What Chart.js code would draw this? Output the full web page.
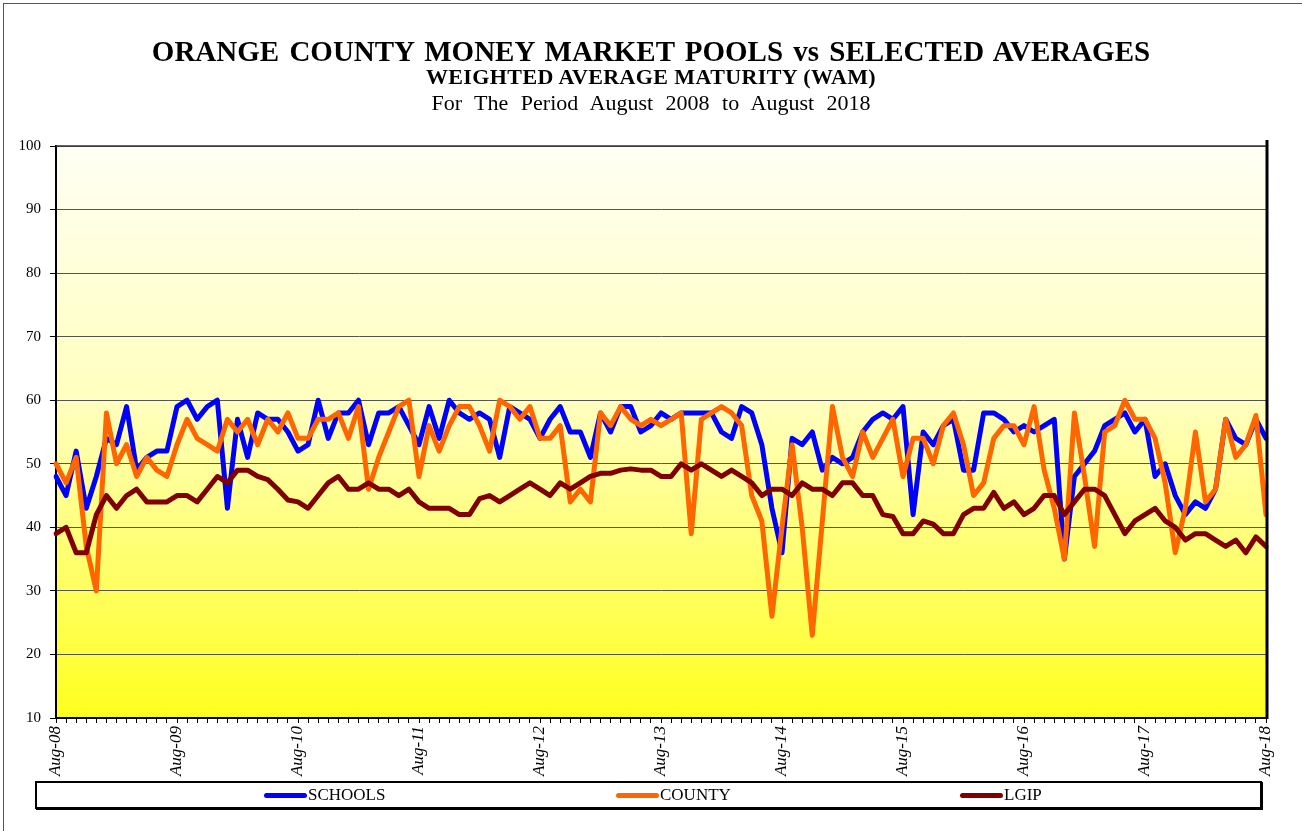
<!DOCTYPE html>
<html>
<head>
<meta charset="utf-8">
<title>Orange County Money Market Pools - WAM</title>
<script src="https://cdn.jsdelivr.net/npm/chart.js@4.4.1/dist/chart.umd.min.js"></script>
<style>
    html, body { margin: 0; padding: 0; background: #fff; overflow: hidden; }
    #wrap { position: relative; width: 1302px; height: 831px; font-family: "Liberation Serif", "Times New Roman", serif; color: #000; }
    #frame { position: absolute; left: 3px; top: 3px; width: 1330px; height: 860px; border-top: 1px solid #555; border-left: 1px solid #555; }
    #wamChart { position: absolute; left: 0; top: 0; }
    .ttl { position: absolute; left: 0; width: 1302px; text-align: center; line-height: 1; white-space: pre; }
    #t1 { top: 37px; font-size: 29px; font-weight: bold; word-spacing: 3px; }
    #t2 { top: 66px; font-size: 22px; font-weight: bold; letter-spacing: 0.4px; }
    #t3 { top: 92px; font-size: 22px; word-spacing: 7px; }
    #legend { position: absolute; left: 35px; top: 781px; width: 1223px; height: 24px; border: 2px solid #000; box-shadow: 1px 1px 0 #000; background: #fff; }
    .swatch { position: absolute; top: 10px; width: 43px; height: 5px; border-radius: 3px; }
    .lbl { position: absolute; top: 3px; font-size: 17px; line-height: 1; }
</style>
</head>
<body>
<div id="wrap">
    <div id="frame"></div>
    <canvas id="wamChart" width="1302" height="831"></canvas>
    <div class="ttl" id="t1">ORANGE COUNTY MONEY MARKET POOLS vs SELECTED AVERAGES</div>
    <div class="ttl" id="t2">WEIGHTED AVERAGE MATURITY (WAM)</div>
    <div class="ttl" id="t3">For The Period August 2008 to August 2018</div>
    <div id="legend"></div>
</div>
<script>
// Month categories (Aug-08 .. Aug-18), one label per month
const MONTH_NAMES = ['Jan', 'Feb', 'Mar', 'Apr', 'May', 'Jun', 'Jul', 'Aug', 'Sep', 'Oct', 'Nov', 'Dec'];
const TICK_LABELS = ['Aug-08', 'Aug-09', 'Aug-10', 'Aug-11', 'Aug-12', 'Aug-13', 'Aug-14', 'Aug-15', 'Aug-16', 'Aug-17', 'Aug-18'];

// Weighted average maturity, in days
const SCHOOLS = [
    48, 45, 52, 43, 48, 54, 53, 59, 49, 51, 52, 52, 59, 60, 57,
    59, 60, 43, 57, 51, 58, 57, 57, 55, 52, 53, 60, 54, 58, 58,
    60, 53, 58, 58, 59, 56, 53, 59, 54, 60, 58, 57, 58, 57,
    51, 59, 58, 57, 54, 57, 59, 55, 55, 51, 58, 55, 59, 59, 55,
    56, 58, 57, 58, 58, 58, 58, 55, 54, 59, 58, 53, 43, 36, 54,
    53, 55, 49, 51, 50, 51, 55, 57, 58, 57, 59, 42, 55, 53, 56,
    57, 49, 49, 58, 58, 57, 55, 56, 55, 56, 57, 35, 48, 50, 52,
    56, 57, 58, 55, 57, 48, 50, 45, 42, 44, 43, 46, 57, 54, 53, 57, 54
];
const COUNTY = [
    50, 47, 51, 37, 30, 58, 50, 53, 48, 51, 49, 48, 53, 57, 54,
    53, 52, 57, 55, 57, 53, 57, 55, 58, 54, 54, 57, 57, 58, 54,
    59, 46, 51, 55, 59, 60, 48, 56, 52, 56, 59, 59, 56, 52,
    60, 59, 57, 59, 54, 54, 56, 44, 46, 44, 58, 56, 59, 57, 56,
    57, 56, 57, 58, 39, 57, 58, 59, 58, 56, 45, 41, 26, 40, 53,
    40, 23, 41, 59, 51, 48, 55, 51, 54, 57, 48, 54, 54, 50, 56,
    58, 53, 45, 47, 54, 56, 56, 53, 59, 49, 43, 35, 58, 48, 37,
    55, 56, 60, 57, 57, 54, 47, 36, 43, 55, 44, 46, 57, 51, 53, 57.6, 42
];
const LGIP = [
    39, 40, 36, 36, 42, 45, 43, 45, 46, 44, 44, 44, 45, 45, 44,
    46, 48, 47, 49, 49, 48, 47.5, 46, 44.3, 44, 43, 45, 47, 48, 46,
    46, 47, 46, 46, 45, 46, 44, 43, 43, 43, 42, 42, 44.5, 45,
    44, 45, 46, 47, 46, 45, 47, 46, 47, 48, 48.5, 48.5, 49, 49.2, 49,
    49, 48, 48, 50, 49, 50, 49, 48, 49, 48, 47, 45, 46, 46, 45,
    47, 46, 46, 45, 47, 47, 45, 45, 42, 41.7, 39, 39, 41, 40.5, 39,
    39, 42, 43, 43, 45.5, 43, 44, 42, 43, 45, 45, 42, 44, 46, 46,
    45, 42, 39, 41, 42, 43, 41, 40, 38, 39, 39, 38, 37, 38, 36, 38.5, 37
];

const SERIES_NAMES = ['SCHOOLS', 'COUNTY', 'LGIP'];
const SERIES_COLORS = ['#0000ff', '#ff6600', '#800000'];

// Build month labels from Aug-2008 for as many points as there are values
const monthLabels = [];
for (let i = 0; i < SCHOOLS.length; i++) {
    const m = (7 + i) % 12;
    const yr = 8 + Math.floor((7 + i) / 12);
    monthLabels.push(MONTH_NAMES[m] + '-' + String(yr).padStart(2, '0'));
}

/**
 * Plot area gradient (cream at the top fading to yellow) and the heavy frame edges
 */
const plotFrame = {
    id: 'plotFrame',
    beforeDraw(chart) {
        const { ctx, chartArea: a } = chart;
        const g = ctx.createLinearGradient(0, a.top, 0, a.bottom);
        g.addColorStop(0, '#fffff4');
        g.addColorStop(0.45, '#ffffbe');
        g.addColorStop(1, '#ffff1e');
        ctx.save();
        ctx.fillStyle = g;
        ctx.fillRect(a.left, a.top, a.width, a.height);
        ctx.restore();
    },
    afterDatasetsDraw(chart) {
        const { ctx, chartArea: a } = chart;
        ctx.save();
        ctx.strokeStyle = '#000';
        ctx.lineWidth = 3;
        ctx.beginPath();
        ctx.moveTo(a.right + 1, a.top - 6);
        ctx.lineTo(a.right + 1, a.bottom + 1);
        ctx.stroke();
        ctx.lineWidth = 1.5;
        ctx.strokeStyle = '#333';
        ctx.beginPath();
        ctx.moveTo(a.left, a.top);
        ctx.lineTo(a.right, a.top);
        ctx.stroke();
        ctx.restore();
    }
};

function renderLegend() {
    const box = document.getElementById('legend');
    const swatchX = [227, 579, 923];
    SERIES_NAMES.forEach((name, i) => {
        const sw = document.createElement('div');
        sw.className = 'swatch';
        sw.style.left = swatchX[i] + 'px';
        sw.style.background = SERIES_COLORS[i];
        box.appendChild(sw);
        const tx = document.createElement('div');
        tx.className = 'lbl';
        tx.style.left = (swatchX[i] + 44) + 'px';
        tx.innerText = name;
        box.appendChild(tx);
    });
}

function renderChart() {
    const ctx = document.getElementById('wamChart').getContext('2d');
    const values = [SCHOOLS, COUNTY, LGIP];
    new Chart(ctx, {
        type: 'line',
        data: {
            labels: monthLabels,
            datasets: values.map((v, i) => ({
                label: SERIES_NAMES[i],
                data: v,
                borderColor: SERIES_COLORS[i],
                backgroundColor: SERIES_COLORS[i],
                borderWidth: 5,
                pointRadius: 0,
                tension: 0,
                borderJoinStyle: 'round',
                borderCapStyle: 'round',
                order: 3 - i // LGIP drawn on top, like the original
            }))
        },
        options: {
            responsive: false,
            animation: false,
            layout: { padding: { left: 0, right: 36, top: 146, bottom: 43 } },
            plugins: {
                legend: { display: false },
                tooltip: { enabled: false }
            },
            scales: {
                x: {
                    type: 'category',
                    offset: false,
                    grid: { drawOnChartArea: false, drawTicks: true, tickLength: 5, color: '#000', lineWidth: 1 },
                    border: { display: true, color: '#000', width: 2 },
                    ticks: {
                        autoSkip: false,
                        minRotation: 90,
                        maxRotation: 90,
                        padding: 3,
                        color: '#000',
                        font: { family: '"Liberation Serif"', size: 17, style: 'italic' },
                        callback: function(value, index) {
                            return index % 12 === 0 ? TICK_LABELS[index / 12] : '';
                        }
                    },
                    afterFit: (scale) => { scale.height = 70; }
                },
                y: {
                    min: 10,
                    max: 100,
                    grid: { color: '#555', lineWidth: 1, tickLength: 6, tickColor: '#000' },
                    border: { display: true, color: '#000', width: 2 },
                    ticks: {
                        stepSize: 10,
                        padding: 9,
                        color: '#000',
                        font: { family: '"Liberation Serif"', size: 15 }
                    },
                    afterFit: (scale) => { scale.width = 56; }
                }
            }
        },
        plugins: [plotFrame]
    });
}

renderLegend();
renderChart();
</script>
</body>
</html>
